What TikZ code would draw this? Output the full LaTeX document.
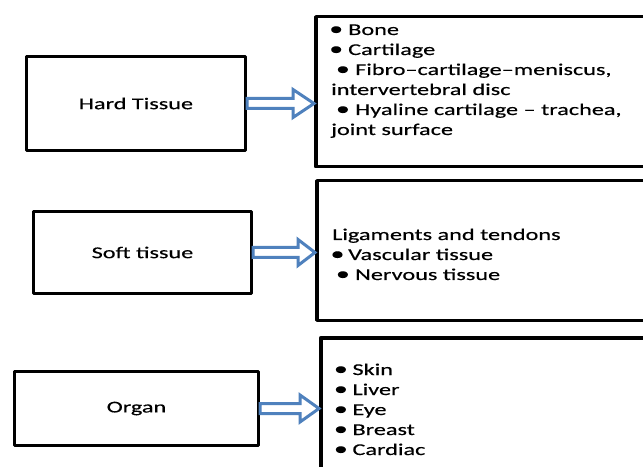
\documentclass[tikz,border=0pt]{standalone}
\usepackage{fontspec}
\setmainfont{Carlito}[FakeStretch=1.47,FakeBold=0.35]
\usetikzlibrary{calc}
\definecolor{arrblue}{RGB}{79,129,189}
\newcommand{\bul}[2]{\hspace*{#1bp}\makebox[10bp][c]{\scalebox{1.15}{•}}\hspace*{#2bp}}
\newcommand{\blockarr}[5]{%
  \draw[blockarrow] ($(#1.east)+(0,#3)$) -- ($(#1.east -| #2.west)+(-#5,#3)$)
    -- ($(#1.east -| #2.west)+(-#5,#4)$) -- (#1.east -| #2.west)
    -- ($(#1.east -| #2.west)+(-#5,-#4)$) -- ($(#1.east -| #2.west)+(-#5,-#3)$)
    -- ($(#1.east)+(0,-#3)$) -- cycle;}
\begin{document}
\begin{tikzpicture}[x=1bp,y=-1bp,
  every node/.style={font=\fontsize{16.5bp}{20bp}\selectfont, inner sep=0pt},
  lbox/.style={draw=black, line width=3bp, line join=round, fill=white, rectangle},
  rbox/.style={draw=black, line width=3.5bp, line join=round, fill=white, rectangle, anchor=north west},
  line/.style={anchor=base west},
  blockarrow/.style={draw=arrblue, fill=white, line width=3bp, line join=miter, miter limit=3}]
\useasboundingbox (0,0) rectangle (643,467);
\clip (0,0) rectangle (643,467);
\fill[white] (0,0) rectangle (643,467);
% left boxes
\node[lbox, minimum width=219bp, minimum height=94bp] (hard) at (136,103.5) {Hard Tissue};
\node[lbox, minimum width=218bp, minimum height=82bp] (soft) at (142.5,252.5) {Soft tissue};
\node[lbox, minimum width=244bp, minimum height=74bp] (organ) at (136.5,408.5) {Organ};
% right boxes
\node[rbox, minimum width=336bp, minimum height=150bp] (hardlist) at (314,15) {};
\node[rbox, minimum width=335bp, minimum height=139.5bp] (softlist) at (315,179) {};
\node[rbox, minimum width=331bp, minimum height=150bp] (organlist) at (319,336) {};
% arrows
\blockarr{hard}{hardlist}{5}{14}{21}
\blockarr{soft}{softlist}{5}{13}{17}
\blockarr{organ}{organlist}{5}{13.5}{19}
% texts box 1
\node[line] (h1) at (331,35) {\bul{0}{7}Bone};
\node[line] (h2) at (331,55) {\bul{0}{7}Cartilage};
\node[line] (h3) at (331,75) {\bul{6.7}{7.3}Fibro–cartilage–meniscus,};
\node[line] (h4) at (331,95) {intervertebral disc};
\node[line] (h5) at (331,115) {\bul{6.7}{7.3}Hyaline cartilage – trachea,};
\node[line] (h6) at (331,135) {joint surface};
% texts box 2
\node[line] (s1) at (332,240) {Ligaments and tendons};
\node[line] (s2) at (332,260) {\bul{0.3}{5.7}Vascular tissue};
\node[line] (s3) at (332,280) {\bul{5.7}{7.3}Nervous tissue};
% texts box 3
\node[line] (o1) at (335.7,375) {\bul{0}{6.6}Skin};
\node[line] (o2) at (335.7,395) {\bul{0}{6.6}Liver};
\node[line] (o3) at (335.7,415) {\bul{0}{6.6}Eye};
\node[line] (o4) at (335.7,435) {\bul{0}{6.6}Breast};
\node[line] (o5) at (335.7,455) {\bul{0}{6.6}Cardiac};
\end{tikzpicture}
\end{document}
